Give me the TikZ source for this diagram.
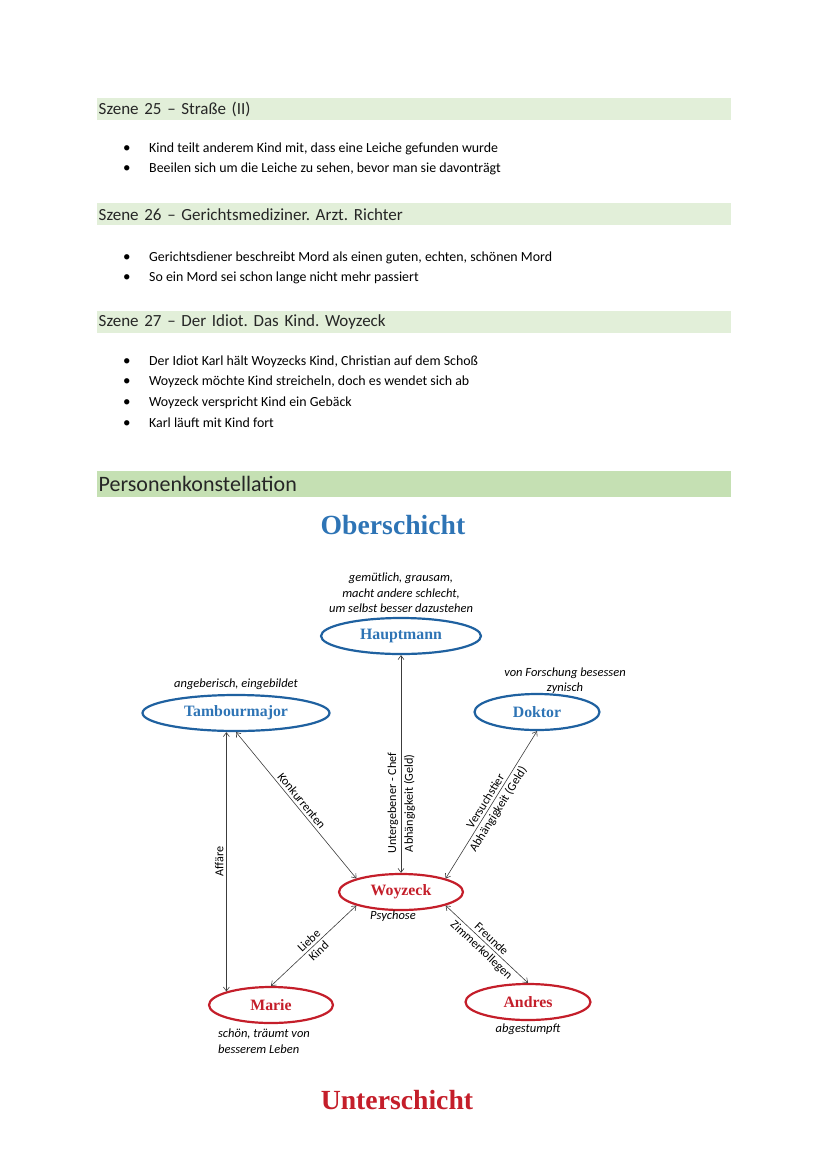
\documentclass[tikz,border=0pt]{standalone}
\usepackage{fontspec}
\setmainfont{Carlito}
\newfontfamily\timesfont{Liberation Serif}
\usetikzlibrary{arrows.meta, shapes.geometric, positioning}
\definecolor{barlight}{RGB}{226,239,217}
\definecolor{bardark}{RGB}{197,224,179}
\definecolor{headgray}{RGB}{38,38,38}
\definecolor{upblue}{RGB}{31,97,160}
\definecolor{upbluetext}{RGB}{46,116,181}
\definecolor{lowred}{RGB}{196,30,42}
\definecolor{arrowgray}{RGB}{60,60,60}
\newcommand*{\bul}{\makebox[26pt][l]{\fontsize{15}{15}\selectfont\textbullet}}
\frenchspacing

\begin{document}
\begin{tikzpicture}[x=1pt, y=-1pt, >={Straight Barb[length=4pt,width=6pt]},
    head/.style={fill=barlight, anchor=north west, minimum height=22pt, text width=631pt, align=left,
      inner xsep=1.5pt, inner ysep=0pt, text=headgray, font=\fontsize{17}{20}\selectfont},
    item/.style={anchor=west, inner sep=0pt, font=\fontsize{13.9}{16}\selectfont},
    person/.style={ellipse, on grid, minimum height=36pt, line width=2.2pt, inner sep=0pt,
      font=\timesfont\bfseries\fontsize{15.8}{18}\selectfont},
    upper/.style={person, draw=upblue, text=upbluetext},
    lower/.style={person, draw=lowred, text=lowred},
    trait/.style={font=\itshape\fontsize{12.5}{15.5}\selectfont, inner sep=1pt},
    rel/.style={<->, draw=arrowgray, line width=.6pt},
    lbl/.style={font=\fontsize{12.2}{14}\selectfont, sloped, inner sep=2.6pt}]
  \useasboundingbox (0,0) rectangle (828,1171);

  % scenes
  \node[head] (sz25) at (97,98) {Szene 25 – Straße (II)};
  \node[item] (sz25a) at (123,149) {\bul Kind teilt anderem Kind mit, dass eine Leiche gefunden wurde};
  \node[item] (sz25b) at (123,169) {\bul Beeilen sich um die Leiche zu sehen, bevor man sie davonträgt};

  \node[head] (sz26) at (97,203) {Szene 26 – Gerichtsmediziner. Arzt. Richter};
  \node[item] (sz26a) at (123,258) {\bul Gerichtsdiener beschreibt Mord als einen guten, echten, schönen Mord};
  \node[item] (sz26b) at (123,278) {\bul So ein Mord sei schon lange nicht mehr passiert};

  \node[head] (sz27) at (97,311) {Szene 27 – Der Idiot. Das Kind. Woyzeck};
  \node[item] (sz27a) at (123,362) {\bul Der Idiot Karl hält Woyzecks Kind, Christian auf dem Schoß};
  \node[item] (sz27b) at (123,382) {\bul Woyzeck möchte Kind streicheln, doch es wendet sich ab};
  \node[item] (sz27c) at (123,403) {\bul Woyzeck verspricht Kind ein Gebäck};
  \node[item] (sz27d) at (123,423) {\bul Karl läuft mit Kind fort};

  \node[head, fill=bardark, minimum height=26pt, font=\fontsize{22}{25}\selectfont] (pk) at (97,471) {Personenkonstellation};

  % constellation
  \node[font=\timesfont\bfseries\fontsize{27.7}{32}\selectfont, text=upbluetext] (ober) at (393,525) {Oberschicht};
  \node[font=\timesfont\bfseries\fontsize{27.7}{32}\selectfont, text=lowred] (unter) at (397,1100) {Unterschicht};

  \node[lower, minimum width=124pt] (woyzeck) at (401,892) {Woyzeck};
  \node[upper, minimum width=160pt] (hauptmann) [above=256pt of woyzeck] {Hauptmann};
  \node[upper, minimum width=187pt] (tambour) [above left=179pt and 165pt of woyzeck] {Tambourmajor};
  \node[upper, minimum width=125pt] (doktor) [above right=180pt and 136pt of woyzeck] {Doktor};
  \node[lower, minimum width=124pt] (marie) [below left=113pt and 130pt of woyzeck] {Marie};
  \node[lower, minimum width=125pt] (andres) [below right=110pt and 127pt of woyzeck] {Andres};

  \node[trait, align=center, above=3pt of hauptmann] (hauptmanntxt) {gemütlich, grausam,\\macht andere schlecht,\\um selbst besser dazustehen};
  \node[trait, above=3pt of tambour] (tambourtxt) {angeberisch, eingebildet};
  \node[trait, align=center, above=-2pt of doktor, xshift=28pt] (doktortxt) {von Forschung besessen\\zynisch};
  \node[trait, below=-1pt of woyzeck, xshift=-8pt] (woyzecktxt) {Psychose};
  \node[trait, align=left, anchor=north west] (marietxt) at ([xshift=9pt, yshift=-4pt]marie.west |- marie.south) {schön, träumt von\\besserem Leben};
  \node[trait, below=2pt of andres] (andrestxt) {abgestumpft};

  \draw[rel] (woyzeck.north) -- (hauptmann.south)
    node[lbl, pos=.32, above] {Untergebener - Chef}
    node[lbl, pos=.32, below] {Abhängigkeit (Geld)};
  \draw[rel] (tambour.south) -- (woyzeck.north west)
    node[lbl, midway, above] {Konkurrenten};
  \draw[rel] (woyzeck.north east) -- (doktor.south)
    node[lbl, midway, above] {Versuchstier}
    node[lbl, midway, below] {Abhängigkeit (Geld)};
  \draw[rel] (marie.north west) -- (marie.north west |- tambour.south)
    node[lbl, midway, above] {Affäre};
  \draw[rel] (marie.north) -- (woyzeck.south west)
    node[lbl, midway, above] {Liebe}
    node[lbl, midway, below] {Kind};
  \draw[rel] (woyzeck.south east) -- (andres.north)
    node[lbl, midway, above] {Freunde}
    node[lbl, midway, below] {Zimmerkollegen};
\end{tikzpicture}
\end{document}
